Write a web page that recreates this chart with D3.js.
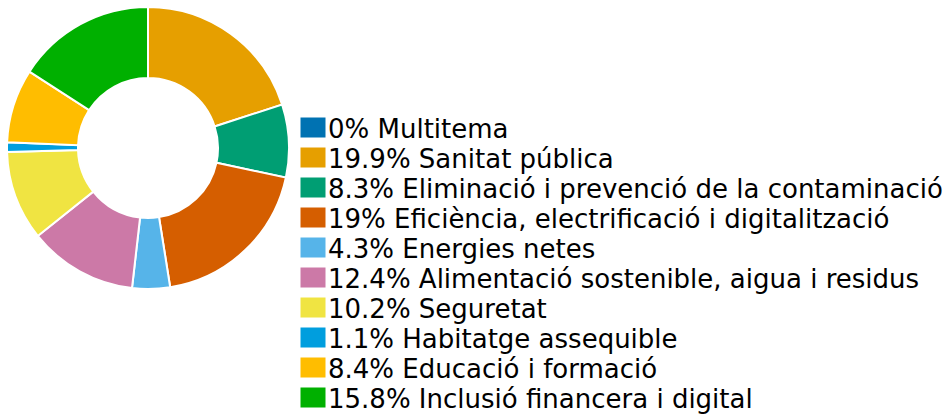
<!DOCTYPE html>
<html>
<head>
<meta charset="utf-8">
<script src="https://cdn.jsdelivr.net/npm/d3@7"></script>
<style>
  body { margin: 0; background: #fff; }
  svg { display: block; }
  .legend-text { font-family: "DejaVu Sans", sans-serif; font-size: 26px; fill: #000; }
</style>
</head>
<body>
<svg id="chart"></svg>
<script>
// Chart data
const categories = [
  "Multitema",
  "Sanitat pública",
  "Eliminació i prevenció de la contaminació",
  "Eficiència, electrificació i digitalització",
  "Energies netes",
  "Alimentació sostenible, aigua i residus",
  "Seguretat",
  "Habitatge assequible",
  "Educació i formació",
  "Inclusió financera i digital"
];
const values = [0, 19.9, 8.3, 19, 4.3, 12.4, 10.2, 1.1, 8.4, 15.8];
const colors = ["#0072b2", "#e69f00", "#009e73", "#d55e00", "#56b4e9", "#cc79a7", "#f0e442", "#009ede", "#ffbd00", "#00b000"];

const width = 944, height = 417;
const svg = d3.select("#chart").attr("width", width).attr("height", height);

const cx = 148, cy = 148, outerR = 141, innerR = 70;

const data = categories.map((c, i) => ({ name: c, value: values[i], color: colors[i] }));

const pie = d3.pie().value(d => d.value).sort(null);
const arc = d3.arc().innerRadius(innerR).outerRadius(outerR);

const donut = svg.append("g").attr("transform", `translate(${cx},${cy})`);

donut.selectAll("path")
  .data(pie(data))
  .join("path")
  .attr("d", arc)
  .attr("fill", d => d.data.color)
  .attr("stroke", "#fff")
  .attr("stroke-width", 2);

// Legend
const legend = svg.append("g").attr("transform", "translate(300,117)");
const rowH = 30;

const rows = legend.selectAll("g")
  .data(data)
  .join("g")
  .attr("transform", (d, i) => `translate(0,${i * rowH})`);

rows.append("rect")
  .attr("width", 26)
  .attr("height", 21)
  .attr("fill", d => d.color)
  .attr("stroke", "#fff")
  .attr("stroke-width", 1);

rows.append("text")
  .attr("class", "legend-text")
  .attr("x", 28)
  .attr("y", 20.5)
  .text(d => `${d.value}% ${d.name}`);
</script>
</body>
</html>
